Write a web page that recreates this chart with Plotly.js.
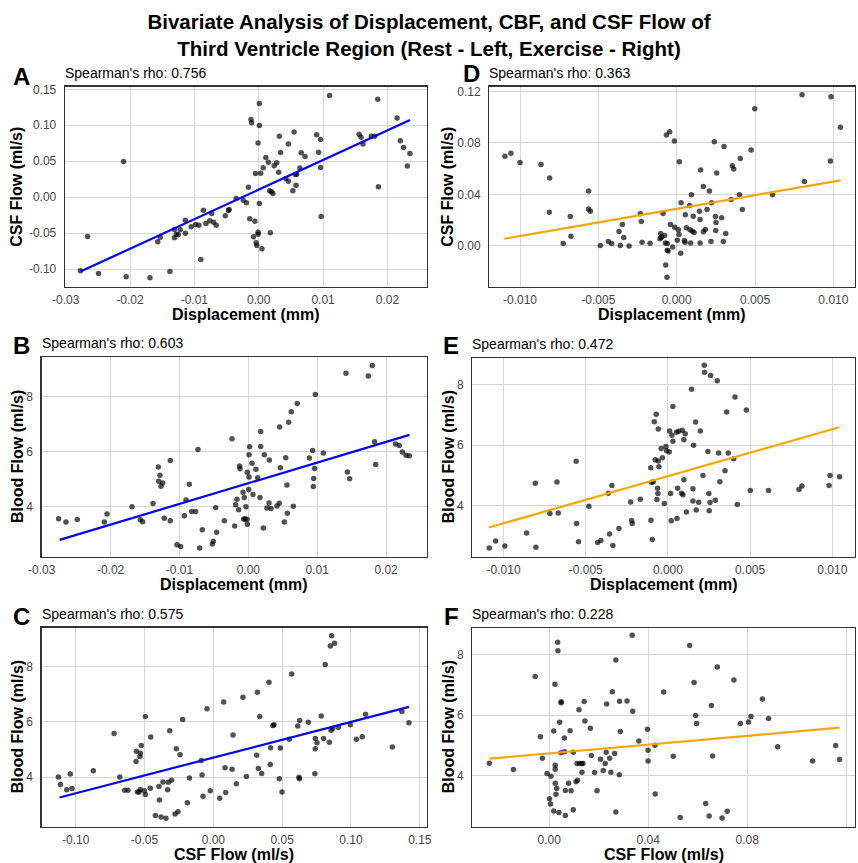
<!DOCTYPE html>
<html>
<head>
<meta charset="utf-8">
<script src="https://cdn.plot.ly/plotly-3.0.1.min.js"></script>
<style>html,body{margin:0;padding:0;background:#fff;}#chart{width:858px;height:863px;}</style>
</head>
<body>
<div id="chart"></div>
<script>
// ---------- Panel A: Rest, Displacement vs CSF Flow ----------
const aX = [-0.0277,-0.0266,-0.0249,-0.0210,-0.0206,-0.0169,-0.0157,-0.0153,-0.0138,-0.0131,-0.0131,-0.0128,-0.0125,-0.0122,-0.0114,-0.0114,-0.0105,-0.0098,-0.0093,-0.0090,-0.0086,-0.0082,-0.0076,-0.0073,-0.0070,-0.0066,-0.0052,-0.0047,-0.0046,-0.0035,-0.0024,-0.0019,-0.0016,-0.0014,-0.0012,-0.0011,-0.0008,-0.0006,-0.0005,-0.0004,-0.0003,-0.0001,-0.0001,-0.0001,0.0001,0.0001,0.0001,0.0003,0.0005,0.0007,0.0011,0.0015,0.0017,0.0018,0.0020,0.0022,0.0024,0.0028,0.0031,0.0032,0.0034,0.0042,0.0046,0.0046,0.0053,0.0055,0.0057,0.0058,0.0059,0.0064,0.0066,0.0072,0.0090,0.0093,0.0096,0.0096,0.0097,0.0110,0.0156,0.0159,0.0162,0.0175,0.0180,0.0185,0.0186,0.0215,0.0220,0.0225,0.0231,0.0235];
const aY = [-0.1025,-0.0547,-0.1063,0.0496,-0.1109,-0.1123,-0.0622,-0.0557,-0.1035,-0.0450,-0.0566,-0.0515,-0.0524,-0.0455,-0.0320,-0.0501,-0.0413,-0.0380,-0.0390,-0.0868,-0.0181,-0.0367,-0.0329,-0.0227,-0.0348,-0.0390,-0.0260,-0.0186,-0.0172,-0.0019,-0.0042,-0.0079,0.0139,-0.0302,0.1081,0.1035,-0.0552,-0.0334,0.0329,-0.0636,-0.0673,0.0752,-0.0515,-0.0487,0.1304,0.0998,-0.0088,0.0334,-0.0719,0.0408,0.0552,0.0487,0.0088,-0.0496,0.0074,0.0051,0.0436,0.0478,0.0348,0.0849,0.0622,0.0260,0.0223,0.0738,0.0088,0.0905,0.0316,0.0167,0.0320,0.0404,0.0617,0.0566,0.0868,0.0626,0.0413,0.0803,-0.0269,0.1415,0.0877,0.0835,0.0738,0.0849,0.0849,0.1364,0.0144,0.1100,0.0784,0.0691,0.0432,0.0608];
const aFitX = [-0.0277, 0.0235];
const aFitY = [-0.1035, 0.1072];
const aRho = "0.756";

// ---------- Panel B: Rest, Displacement vs Blood Flow ----------
const bX = [-0.02754,-0.02648,-0.02483,-0.02091,-0.02052,-0.01689,-0.01568,-0.01534,-0.01384,-0.01307,-0.01283,-0.01302,-0.01268,-0.01244,-0.0122,-0.01133,-0.01133,-0.01036,-0.00983,-0.00929,-0.00905,-0.00857,-0.00823,-0.00765,-0.00731,-0.00707,-0.00668,-0.00523,-0.00508,-0.00474,-0.0046,-0.00348,-0.00237,-0.00198,-0.00184,-0.00165,-0.0014,-0.00126,-0.00121,-0.00077,-0.00058,-0.00068,-0.00048,-0.00034,-0.00019,-0.00015,-0.00015,0.00005,0.0001,0.0001,0.00019,0.00053,0.00068,0.00111,0.00136,0.00169,0.00179,0.00179,0.00218,0.00232,0.00271,0.003,0.00305,0.00329,0.00416,0.0045,0.00455,0.00465,0.00523,0.00542,0.00561,0.00566,0.00586,0.00624,0.00653,0.00711,0.00886,0.00934,0.00944,0.00949,0.00963,0.00973,0.01089,0.01418,0.01438,0.01471,0.01742,0.018,0.01834,0.01849,0.02139,0.02192,0.02236,0.02289,0.02337];
const bY = [3.56,3.44,3.53,3.44,3.73,4.00,3.52,3.45,4.11,5.44,5.14,4.92,4.74,4.86,3.58,3.49,5.68,2.61,2.55,3.67,4.24,4.81,3.82,3.82,6.08,2.50,3.16,2.64,2.74,3.96,3.07,3.49,6.47,3.30,4.07,4.27,3.89,5.48,5.38,4.52,4.33,3.55,3.55,4.00,3.54,5.25,3.36,4.62,5.08,5.89,6.18,5.58,4.44,5.36,5.05,4.33,6.19,6.73,3.22,5.89,3.95,4.13,5.70,3.93,4.02,4.12,6.90,5.41,3.44,5.78,4.79,3.76,7.07,7.45,4.01,7.75,5.77,6.04,4.73,5.02,5.39,8.08,5.95,8.85,5.26,5.01,8.75,9.13,6.36,5.53,6.28,6.22,5.99,5.87,5.85];
const bFitX = [-0.0274, 0.0234];
const bFitY = [2.79, 6.61];
const bRho = "0.603";

// ---------- Panel C: Rest, CSF Flow vs Blood Flow ----------
const cX = [-0.1126,-0.1111,-0.1065,-0.1039,-0.1027,-0.0872,-0.0721,-0.068,-0.0644,-0.062,-0.0562,-0.0559,-0.0552,-0.054,-0.0533,-0.053,-0.053,-0.0523,-0.0501,-0.0494,-0.0494,-0.0455,-0.0458,-0.0421,-0.0395,-0.0392,-0.038,-0.0366,-0.0344,-0.0332,-0.0327,-0.0317,-0.0303,-0.0278,-0.0269,-0.0257,-0.0242,-0.0223,-0.0174,-0.0189,-0.0087,-0.0082,-0.0075,-0.0046,-0.0022,0.0046,0.0075,0.0085,0.009,0.0143,0.0136,0.0167,0.0215,0.024,0.0315,0.032,0.0327,0.0337,0.0351,0.0404,0.0414,0.0416,0.0433,0.0441,0.0479,0.0487,0.0499,0.0552,0.0569,0.0613,0.0622,0.0625,0.0627,0.069,0.0738,0.0741,0.0741,0.0753,0.0784,0.0801,0.0813,0.0843,0.085,0.0855,0.0859,0.0867,0.0881,0.0908,0.0995,0.1039,0.1082,0.1106,0.13,0.137,0.1421];
const cY = [4.00,3.73,3.54,4.11,3.58,4.23,5.58,4.00,3.52,3.52,4.56,4.93,3.46,3.46,4.74,4.86,3.55,5.14,3.50,6.19,3.37,5.45,3.59,2.61,3.66,3.17,2.55,3.82,2.51,3.54,3.81,5.68,3.88,2.66,5.02,2.74,4.81,6.08,3.96,3.07,4.60,4.07,3.30,6.47,3.50,3.23,6.72,4.34,3.44,5.52,4.28,3.76,6.89,4.02,4.79,7.07,4.31,6.19,4.13,7.43,4.45,5.06,5.87,5.89,3.94,5.05,3.46,5.37,7.73,5.85,3.99,3.94,6.05,5.98,4.12,5.40,5.02,5.24,6.21,5.40,8.08,5.26,8.75,5.69,9.12,5.76,8.85,5.79,5.89,5.37,5.46,6.27,5.09,6.37,5.97];
const cFitX = [-0.1118, 0.1421];
const cFitY = [3.26, 6.54];
const cRho = "0.575";

// ---------- Panel D: Exercise, Displacement vs CSF Flow ----------
const dX = [-0.01096,-0.01058,-0.0100,-0.00866,-0.00811,-0.00813,-0.00724,-0.00679,-0.00675,-0.00562,-0.00562,-0.00551,-0.00487,-0.00436,-0.00415,-0.00368,-0.00360,-0.00347,-0.00338,-0.00304,-0.00232,-0.00226,-0.00221,-0.0017,-0.00106,-0.00102,-0.001,-0.00096,-0.00087,-0.00077,-0.00072,-0.00066,-0.0006,-0.0006,-0.00055,-0.0007,-0.00062,-0.00045,-0.0004,-0.00026,-0.00015,-0.00013,0.00004,0.00011,0.00015,0.00017,0.00026,0.00028,0.00049,0.00053,0.00055,0.00062,0.00083,0.00085,0.00089,0.00094,0.001,0.00106,0.00111,0.00145,0.00149,0.00149,0.00153,0.0017,0.0017,0.00183,0.00194,0.00209,0.00219,0.00223,0.0024,0.00247,0.00249,0.00251,0.00255,0.00287,0.00298,0.00302,0.00313,0.00347,0.00355,0.00364,0.004,0.00406,0.00419,0.00475,0.00498,0.00611,0.008,0.00815,0.00981,0.00985,0.01045];
const dY = [0.0696,0.0719,0.0647,0.0631,0.0527,0.0262,0.0018,0.0229,0.0075,0.0426,0.0286,0.0268,0.0003,0.0034,0.0018,0.0112,0.0003,0.0166,0.0065,0.0000,0.0249,0.0190,0.0029,0.0021,0.0055,0.0096,0.0065,0.0070,0.0252,0.0081,0.0023,0.0860,0.0018,-0.0034,-0.0039,-0.0148,-0.0244,0.0886,0.0166,-0.0008,0.0815,0.0145,0.0044,0.0125,0.0088,0.0654,-0.0057,0.0335,0.0042,0.0029,0.0242,0.0140,0.0314,0.0125,0.0023,0.0397,0.0114,0.0231,0.0104,0.0268,0.0205,0.0023,0.0590,0.0462,0.0109,0.0127,0.0283,0.0426,0.0034,0.0335,0.0808,0.0229,0.0119,0.0182,0.0566,0.0218,0.0034,0.0771,0.0096,0.0361,0.0623,0.0597,0.0397,0.0678,0.0283,0.0745,0.1065,0.0397,0.1174,0.0499,0.0660,0.1158,0.0922];
const dFitX = [-0.0110, 0.01045];
const dFitY = [0.0055, 0.0509];
const dRho = "0.363";

// ---------- Panel E: Exercise, Displacement vs Blood Flow ----------
const eX = [-0.01087,-0.01048,-0.00992,-0.0086,-0.00807,-0.00803,-0.00718,-0.00675,-0.00667,-0.00558,-0.00556,-0.00544,-0.00481,-0.00428,-0.00408,-0.00363,-0.00355,-0.00341,-0.00335,-0.00298,-0.00227,-0.00221,-0.00217,-0.00168,-0.00105,-0.00103,-0.00099,-0.00095,-0.00089,-0.00083,-0.00077,-0.00071,-0.00067,-0.00063,-0.00061,-0.00059,-0.00059,-0.00055,-0.00041,-0.00034,-0.00022,-0.00012,-0.00008,0.00008,0.0001,0.00016,0.0002,0.00024,0.0003,0.0003,0.00053,0.00055,0.00059,0.00065,0.00083,0.00087,0.00091,0.00097,0.00097,0.00105,0.00112,0.00144,0.00152,0.00152,0.00156,0.00168,0.00172,0.00187,0.00197,0.00213,0.00221,0.00223,0.00243,0.00249,0.00251,0.00256,0.0026,0.00288,0.003,0.00308,0.00316,0.00347,0.00357,0.00367,0.004,0.00408,0.00422,0.00477,0.00501,0.00612,0.00797,0.00815,0.0098,0.00986,0.01044];
const eY = [2.62,2.85,2.68,3.11,4.75,2.64,3.75,4.79,3.77,5.47,3.42,2.82,3.99,2.80,2.86,4.42,3.08,4.67,2.70,3.26,4.13,3.52,3.42,4.22,5.26,3.53,4.77,2.90,4.80,6.77,5.52,7.02,4.21,4.58,4.41,5.48,6.53,5.29,5.89,5.59,4.08,5.96,5.82,5.78,6.47,4.41,3.51,6.33,7.27,6.13,6.43,3.59,4.58,6.46,4.42,6.49,4.37,6.18,4.86,6.38,3.80,7.84,4.57,4.16,6.00,6.76,3.87,4.12,6.47,5.00,8.63,8.40,5.79,4.41,3.84,4.11,8.29,4.19,8.12,5.74,4.80,5.16,7.09,5.74,5.55,7.59,4.05,7.16,4.51,4.51,4.54,4.66,4.67,5.00,4.96];
const eFitX = [-0.0109, 0.0104];
const eFitY = [3.29, 6.59];
const eRho = "0.472";

// ---------- Panel F: Exercise, CSF Flow vs Blood Flow ----------
const fX = [-0.0242,-0.0145,-0.0057,-0.0036,-0.0028,-0.0009,0.0001,0.0005,0.0007,0.0018,0.0018,0.0023,0.0024,0.0024,0.0024,0.0027,0.0030,0.0034,0.0035,0.0039,0.0042,0.0047,0.0048,0.0048,0.0061,0.0062,0.0065,0.0065,0.0078,0.0084,0.0088,0.0097,0.0097,0.0108,0.0112,0.0114,0.0120,0.0123,0.0131,0.0132,0.0136,0.0141,0.0144,0.0166,0.0170,0.0183,0.0193,0.0207,0.0218,0.0226,0.0230,0.0232,0.0244,0.0249,0.0255,0.0264,0.0269,0.0269,0.0283,0.0284,0.0287,0.0314,0.0335,0.0337,0.0362,0.0397,0.0399,0.0399,0.0427,0.0428,0.0462,0.0501,0.0529,0.0567,0.0585,0.0591,0.0595,0.0632,0.0646,0.0655,0.0660,0.0679,0.0698,0.0719,0.0746,0.0772,0.0805,0.0815,0.0861,0.0886,0.0923,0.1064,0.1157,0.1173];
const fY = [4.42,4.21,7.27,5.29,4.58,4.08,3.25,3.08,3.99,2.85,5.48,7.02,4.35,4.22,3.76,3.40,3.59,8.40,8.12,2.80,5.77,4.76,6.44,6.41,5.25,4.80,3.52,2.70,3.76,5.49,3.51,4.78,2.89,3.81,4.41,3.86,6.18,4.41,4.41,4.12,4.41,6.45,5.81,5.57,4.67,4.11,3.51,4.55,4.18,4.41,4.78,6.37,4.58,4.12,6.77,4.74,7.82,2.81,4.04,6.46,5.46,6.47,8.63,6.13,5.15,5.54,4.85,4.49,5.01,3.41,6.76,4.65,2.63,8.29,7.08,5.99,5.73,3.09,2.68,6.32,4.66,7.59,2.62,2.84,7.16,5.73,5.78,5.96,6.53,5.89,4.96,4.49,5.00,4.54];
const fFitX = [-0.0242, 0.1173];
const fFitY = [4.57, 5.59];
const fRho = "0.228";

// ---------- Tick labels ----------
const dispRestTicks = [-0.03,-0.02,-0.01,0,0.01,0.02];
const dispRestText = ["-0.03","-0.02","-0.01","0.00","0.01","0.02"];
const csfRestYTicks = [-0.10,-0.05,0,0.05,0.10,0.15];
const csfRestYText = ["-0.10","-0.05","0.00","0.05","0.10","0.15"];
const csfRestXTicks = [-0.10,-0.05,0,0.05,0.10,0.15];
const csfRestXText = ["-0.10","-0.05","0.00","0.05","0.10","0.15"];
const dispExTicks = [-0.010,-0.005,0,0.005,0.010];
const dispExText = ["-0.010","-0.005","0.000","0.005","0.010"];
const csfExTicks = [0,0.04,0.08,0.12];
const csfExText = ["0.00","0.04","0.08","0.12"];
const bloodTicks = [4,6,8];
const bloodText = ["4","6","8"];

const W = 858, H = 863;
const FONT = "Liberation Sans, Arial, sans-serif";
const dxp = (l, r) => [l / W, r / W];
const dyp = (t, b) => [1 - b / H, 1 - t / H];

const panels = [
  {k:"", x:aX, y:aY, fx:aFitX, fy:aFitY, col:"#0000FF", rho:aRho, L:"A",
   xd:[65,426.7], yd:[86.7,286.7], xr:[-0.0301,0.0261], yr:[-0.1246,0.1537],
   xt:[dispRestTicks,dispRestText], yt:[csfRestYTicks,csfRestYText],
   xtitle:"Displacement (mm)", ytitle:"CSF Flow (ml/s)", lx:21, ly:76, ytx:17},
  {k:"2", x:dX, y:dY, fx:dFitX, fy:dFitY, col:"#FFA500", rho:dRho, L:"D",
   xd:[489.3,854.7], yd:[86.7,286.7], xr:[-0.01196,0.01136], yr:[-0.0317,0.1236],
   xt:[dispExTicks,dispExText], yt:[csfExTicks,csfExText],
   xtitle:"Displacement (mm)", ytitle:"CSF Flow (ml/s)", lx:471, ly:74, ytx:448},
  {k:"3", x:bX, y:bY, fx:bFitX, fy:bFitY, col:"#0000FF", rho:bRho, L:"B",
   xd:[41.7,426.7], yd:[357.3,556.7], xr:[-0.0300,0.0259], yr:[2.18,9.43],
   xt:[dispRestTicks,dispRestText], yt:[bloodTicks,bloodText],
   xtitle:"Displacement (mm)", ytitle:"Blood Flow (ml/s)", lx:21, ly:346, ytx:17},
  {k:"4", x:eX, y:eY, fx:eFitX, fy:eFitY, col:"#FFA500", rho:eRho, L:"E",
   xd:[472.3,854.7], yd:[358,556.7], xr:[-0.0119,0.01136], yr:[2.33,8.87],
   xt:[dispExTicks,dispExText], yt:[bloodTicks,bloodText],
   xtitle:"Displacement (mm)", ytitle:"Blood Flow (ml/s)", lx:451, ly:346, ytx:448},
  {k:"5", x:cX, y:cY, fx:cFitX, fy:cFitY, col:"#0000FF", rho:cRho, L:"C",
   xd:[41.7,426.7], yd:[627.7,826.7], xr:[-0.1247,0.155], yr:[2.20,9.41],
   xt:[csfRestXTicks,csfRestXText], yt:[bloodTicks,bloodText],
   xtitle:"CSF Flow (ml/s)", ytitle:"Blood Flow (ml/s)", lx:21, ly:616, ytx:17},
  {k:"6", x:fX, y:fY, fx:fFitX, fy:fFitY, col:"#FFA500", rho:fRho, L:"F",
   xd:[472.3,854.7], yd:[628,826.7], xr:[-0.0311,0.1234], yr:[2.33,8.87],
   xt:[csfExTicks,csfExText], yt:[bloodTicks,bloodText],
   xtitle:"CSF Flow (ml/s)", ytitle:"Blood Flow (ml/s)", lx:451, ly:616, ytx:448}
];

const traces = [];
const layout = {
  width: W, height: H,
  margin: {l:0, r:0, t:0, b:0},
  paper_bgcolor: "#ffffff", plot_bgcolor: "#ffffff",
  showlegend: false,
  font: {family: FONT, color: "#000"},
  title: {
    text: "<b>Bivariate Analysis of Displacement, CBF, and CSF Flow of<br>Third Ventricle Region (Rest - Left, Exercise - Right)</b>",
    font: {family: FONT, size: 20.5, color: "#000"},
    x: 0.5, xanchor: "center", xref: "container",
    y: 1 - 29 / H, yanchor: "middle", yref: "container"
  },
  annotations: []
};

panels.forEach(p => {
  const xa = "x" + p.k, ya = "y" + p.k;
  traces.push({
    type: "scatter", mode: "markers", x: p.x, y: p.y, xaxis: xa, yaxis: ya,
    marker: {size: 5.5, color: "rgba(0,0,0,0.68)", line: {width: 0}},
    hoverinfo: "x+y"
  });
  traces.push({
    type: "scatter", mode: "lines", x: p.fx, y: p.fy, xaxis: xa, yaxis: ya,
    line: {color: p.col, width: 2.2}, hoverinfo: "skip"
  });
  const axCommon = {
    showgrid: true, gridcolor: "#d6d6d6", gridwidth: 1,
    zeroline: false, showline: true, mirror: true, linecolor: "#333333", linewidth: 1.3,
    ticks: "", tickfont: {family: FONT, size: 12, color: "#444"},
    automargin: false, fixedrange: true
  };
  layout["xaxis" + p.k] = Object.assign({}, axCommon, {
    domain: dxp(p.xd[0], p.xd[1]), range: p.xr, anchor: ya,
    tickmode: "array", tickvals: p.xt[0], ticktext: p.xt[1],
    ticklabelstandoff: 2
  });
  layout["yaxis" + p.k] = Object.assign({}, axCommon, {
    domain: dyp(p.yd[0], p.yd[1]), range: p.yr, anchor: xa,
    tickmode: "array", tickvals: p.yt[0], ticktext: p.yt[1],
    ticklabelstandoff: 5
  });
  // panel letter
  layout.annotations.push({
    text: "<b>" + p.L + "</b>", xref: "paper", yref: "paper",
    x: p.lx / W, y: 1 - p.ly / H, xanchor: "center", yanchor: "middle",
    showarrow: false, font: {family: FONT, size: 24, color: "#000"}
  });
  // Spearman's rho
  layout.annotations.push({
    text: "Spearman's rho: " + p.rho, xref: "paper", yref: "paper",
    x: (p.xd[0] - 2) / W, y: 1 - (p.yd[0] - 14) / H, xanchor: "left", yanchor: "middle",
    showarrow: false, font: {family: FONT, size: 14, color: "#000"}
  });
  // x-axis title
  layout.annotations.push({
    text: "<b>" + p.xtitle + "</b>", xref: "paper", yref: "paper",
    x: (p.xd[0] + p.xd[1]) / 2 / W, y: 1 - (p.yd[1] + 28) / H,
    xanchor: "center", yanchor: "middle",
    showarrow: false, font: {family: FONT, size: 16, color: "#000"}
  });
  // y-axis title
  layout.annotations.push({
    text: "<b>" + p.ytitle + "</b>", xref: "paper", yref: "paper", textangle: -90,
    x: p.ytx / W, y: 1 - (p.yd[0] + p.yd[1]) / 2 / H,
    xanchor: "center", yanchor: "middle",
    showarrow: false, font: {family: FONT, size: 16, color: "#000"}
  });
});

Plotly.newPlot("chart", traces, layout, {displayModeBar: false, staticPlot: true});
</script>
</body>
</html>
